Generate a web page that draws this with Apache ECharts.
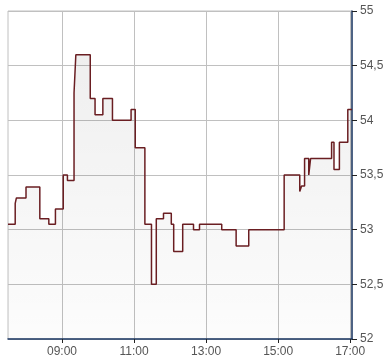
<!DOCTYPE html>
<html>
<head>
<meta charset="utf-8">
<script src="https://cdn.jsdelivr.net/npm/echarts@6/dist/echarts.min.js"></script>
<style>html,body{margin:0;padding:0;background:#fff}#c{width:390px;height:364px}</style>
</head>
<body>
<div id="c"></div>
<script>
// times in minutes since midnight, price holds from that time until next change
const times = [450, 462, 464, 480, 503, 518, 529, 542, 549, 560, 563, 587, 595, 608, 624, 655, 662, 678, 689, 697, 709, 722, 726, 741, 759, 769, 806, 830, 851, 910, 936, 939, 944, 951, 954, 989, 993, 1002, 1016, 1023];
const prices = [53.05, 53.24, 53.29, 53.39, 53.10, 53.05, 53.19, 53.50, 53.45, 54.25, 54.60, 54.20, 54.05, 54.20, 54.00, 54.10, 53.75, 53.05, 52.50, 53.10, 53.15, 53.05, 52.80, 53.05, 53.00, 53.05, 53.00, 52.85, 53.00, 53.50, 53.35, 53.40, 53.65, 53.50, 53.65, 53.80, 53.55, 53.80, 54.10, 54.10];
const xTicks = [540, 660, 780, 900, 1020];
const yTicks = [52, 52.5, 53, 53.5, 54, 54.5, 55];

const fmtTime = m => String(Math.floor(m / 60)).padStart(2, '0') + ':' + String(m % 60).padStart(2, '0');
const data = times.map((t, i) => [t, prices[i]]);

const chart = echarts.init(document.getElementById('c'), null, {renderer: 'canvas'});
chart.setOption({
  animation: false,
  backgroundColor: '#fff',
  grid: {left: 8, right: 38, top: 11, bottom: 25, show: true, borderColor: '#c0c0c0', borderWidth: 1, backgroundColor: 'transparent'},
  xAxis: {
    type: 'value', min: 450, max: 1023,
    axisLine: {show: true, lineStyle: {color: '#1e3a66', width: 1.5}},
    axisTick: {show: true, customValues: xTicks, length: 4, lineStyle: {color: '#222'}},
    axisLabel: {customValues: xTicks, formatter: v => fmtTime(v), color: '#555', fontFamily: 'Liberation Sans, Arial', fontSize: 12, margin: 7},
    splitLine: {show: true, customValues: xTicks, lineStyle: {color: '#c0c0c0', width: 1}}
  },
  yAxis: {
    type: 'value', position: 'right', min: 52, max: 55, interval: 0.5,
    axisLine: {show: true, lineStyle: {color: '#1e3a66', width: 1.5}},
    axisTick: {show: true, length: 5, lineStyle: {color: '#222'}},
    axisLabel: {formatter: v => String(v).replace('.', ','), color: '#555', fontFamily: 'Liberation Sans, Arial', fontSize: 12, margin: 8},
    splitLine: {show: true, lineStyle: {color: '#c0c0c0', width: 1}}
  },
  series: [{
    type: 'line', step: 'end', data: data, symbol: 'none',
    lineStyle: {color: '#6a1e22', width: 1.5},
    areaStyle: {origin: 'start', color: new echarts.graphic.LinearGradient(0, 0, 0, 1, [
      {offset: 0, color: 'rgba(0,0,0,0.09)'}, {offset: 1, color: 'rgba(0,0,0,0.015)'}
    ])}
  }]
});
</script>
</body>
</html>
